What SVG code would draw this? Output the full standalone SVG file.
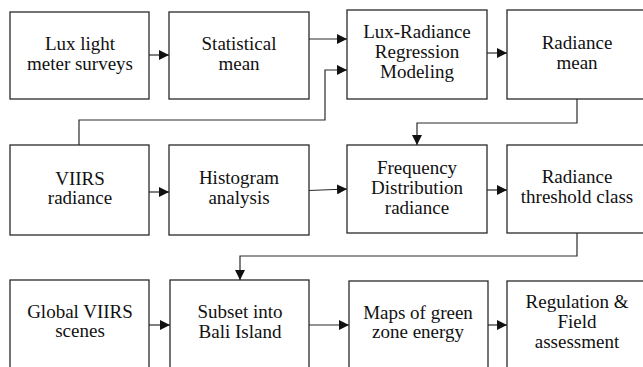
<svg xmlns="http://www.w3.org/2000/svg" width="643" height="367" viewBox="0 0 643 367">
  <style>
    .box { fill: #fff; stroke: #2a2a2a; stroke-width: 1.3; }
    .lbl { font-family: "Liberation Serif", "Times New Roman", serif; font-size: 19px; fill: #111; text-anchor: middle; }
    .wire { fill: none; stroke: #2a2a2a; stroke-width: 1.2; }
  </style>
  <defs>
    <marker id="arrow" viewBox="0 0 10 10" refX="10" refY="5" markerWidth="10" markerHeight="10" markerUnits="userSpaceOnUse" orient="auto">
      <path d="M0,0 L10,5 L0,10 Z" fill="#111"/>
    </marker>
  </defs>
  <rect width="643" height="367" fill="#fff"/>

  <!-- Row 1 -->
  <g id="lux-survey">
    <rect class="box" x="10" y="12" width="139" height="87"/>
    <text class="lbl" x="80" y="50">Lux light</text>
    <text class="lbl" x="80" y="70">meter surveys</text>
  </g>
  <g id="stat-mean">
    <rect class="box" x="169" y="12" width="140" height="87"/>
    <text class="lbl" x="239" y="50">Statistical</text>
    <text class="lbl" x="239" y="70">mean</text>
  </g>
  <g id="regression">
    <rect class="box" x="347" y="10" width="140" height="89"/>
    <text class="lbl" x="417" y="38">Lux-Radiance</text>
    <text class="lbl" x="417" y="58">Regression</text>
    <text class="lbl" x="417" y="78">Modeling</text>
  </g>
  <g id="radiance-mean">
    <rect class="box" x="507" y="10" width="150" height="89"/>
    <text class="lbl" x="577" y="49">Radiance</text>
    <text class="lbl" x="577" y="69">mean</text>
  </g>

  <!-- Row 2 -->
  <g id="viirs-radiance">
    <rect class="box" x="10" y="145" width="139" height="90"/>
    <text class="lbl" x="80" y="185">VIIRS</text>
    <text class="lbl" x="80" y="204">radiance</text>
  </g>
  <g id="histogram">
    <rect class="box" x="169" y="145" width="140" height="90"/>
    <text class="lbl" x="239" y="184">Histogram</text>
    <text class="lbl" x="239" y="204">analysis</text>
  </g>
  <g id="freq-dist">
    <rect class="box" x="347" y="145" width="140" height="88"/>
    <text class="lbl" x="417" y="174">Frequency</text>
    <text class="lbl" x="417" y="194">Distribution</text>
    <text class="lbl" x="417" y="214">radiance</text>
  </g>
  <g id="threshold">
    <rect class="box" x="507" y="145" width="150" height="88"/>
    <text class="lbl" x="577" y="183">Radiance</text>
    <text class="lbl" x="577" y="203">threshold class</text>
  </g>

  <!-- Row 3 -->
  <g id="global-viirs">
    <rect class="box" x="10" y="280" width="139" height="110"/>
    <text class="lbl" x="80" y="318">Global VIIRS</text>
    <text class="lbl" x="80" y="337">scenes</text>
  </g>
  <g id="subset-bali">
    <rect class="box" x="170" y="280" width="139" height="110"/>
    <text class="lbl" x="240" y="318">Subset into</text>
    <text class="lbl" x="240" y="338">Bali Island</text>
  </g>
  <g id="green-maps">
    <rect class="box" x="349" y="281" width="139" height="110"/>
    <text class="lbl" x="418" y="319">Maps of green</text>
    <text class="lbl" x="418" y="338">zone energy</text>
  </g>
  <g id="regulation">
    <rect class="box" x="507" y="281" width="150" height="110"/>
    <text class="lbl" x="577" y="308">Regulation &amp;</text>
    <text class="lbl" x="577" y="328">Field</text>
    <text class="lbl" x="577" y="348">assessment</text>
  </g>

  <!-- Connectors -->
  <g id="connectors">
    <path class="wire" d="M149,55 H169" marker-end="url(#arrow)"/>
    <path class="wire" d="M309,39 H347" marker-end="url(#arrow)"/>
    <path class="wire" d="M79,145 V120 H325 V70 H347" marker-end="url(#arrow)"/>
    <path class="wire" d="M487,53 H507" marker-end="url(#arrow)"/>
    <path class="wire" d="M577,99 V123 H417 V145" marker-end="url(#arrow)"/>

    <path class="wire" d="M149,192 H169" marker-end="url(#arrow)"/>
    <path class="wire" d="M309,190.5 L347,189" marker-end="url(#arrow)"/>
    <path class="wire" d="M487,190 H507" marker-end="url(#arrow)"/>
    <path class="wire" d="M577,233 V256 H240 V280" marker-end="url(#arrow)"/>

    <path class="wire" d="M149,325 H170" marker-end="url(#arrow)"/>
    <path class="wire" d="M309,325 H349" marker-end="url(#arrow)"/>
    <path class="wire" d="M488,325 H507" marker-end="url(#arrow)"/>
  </g>
</svg>
